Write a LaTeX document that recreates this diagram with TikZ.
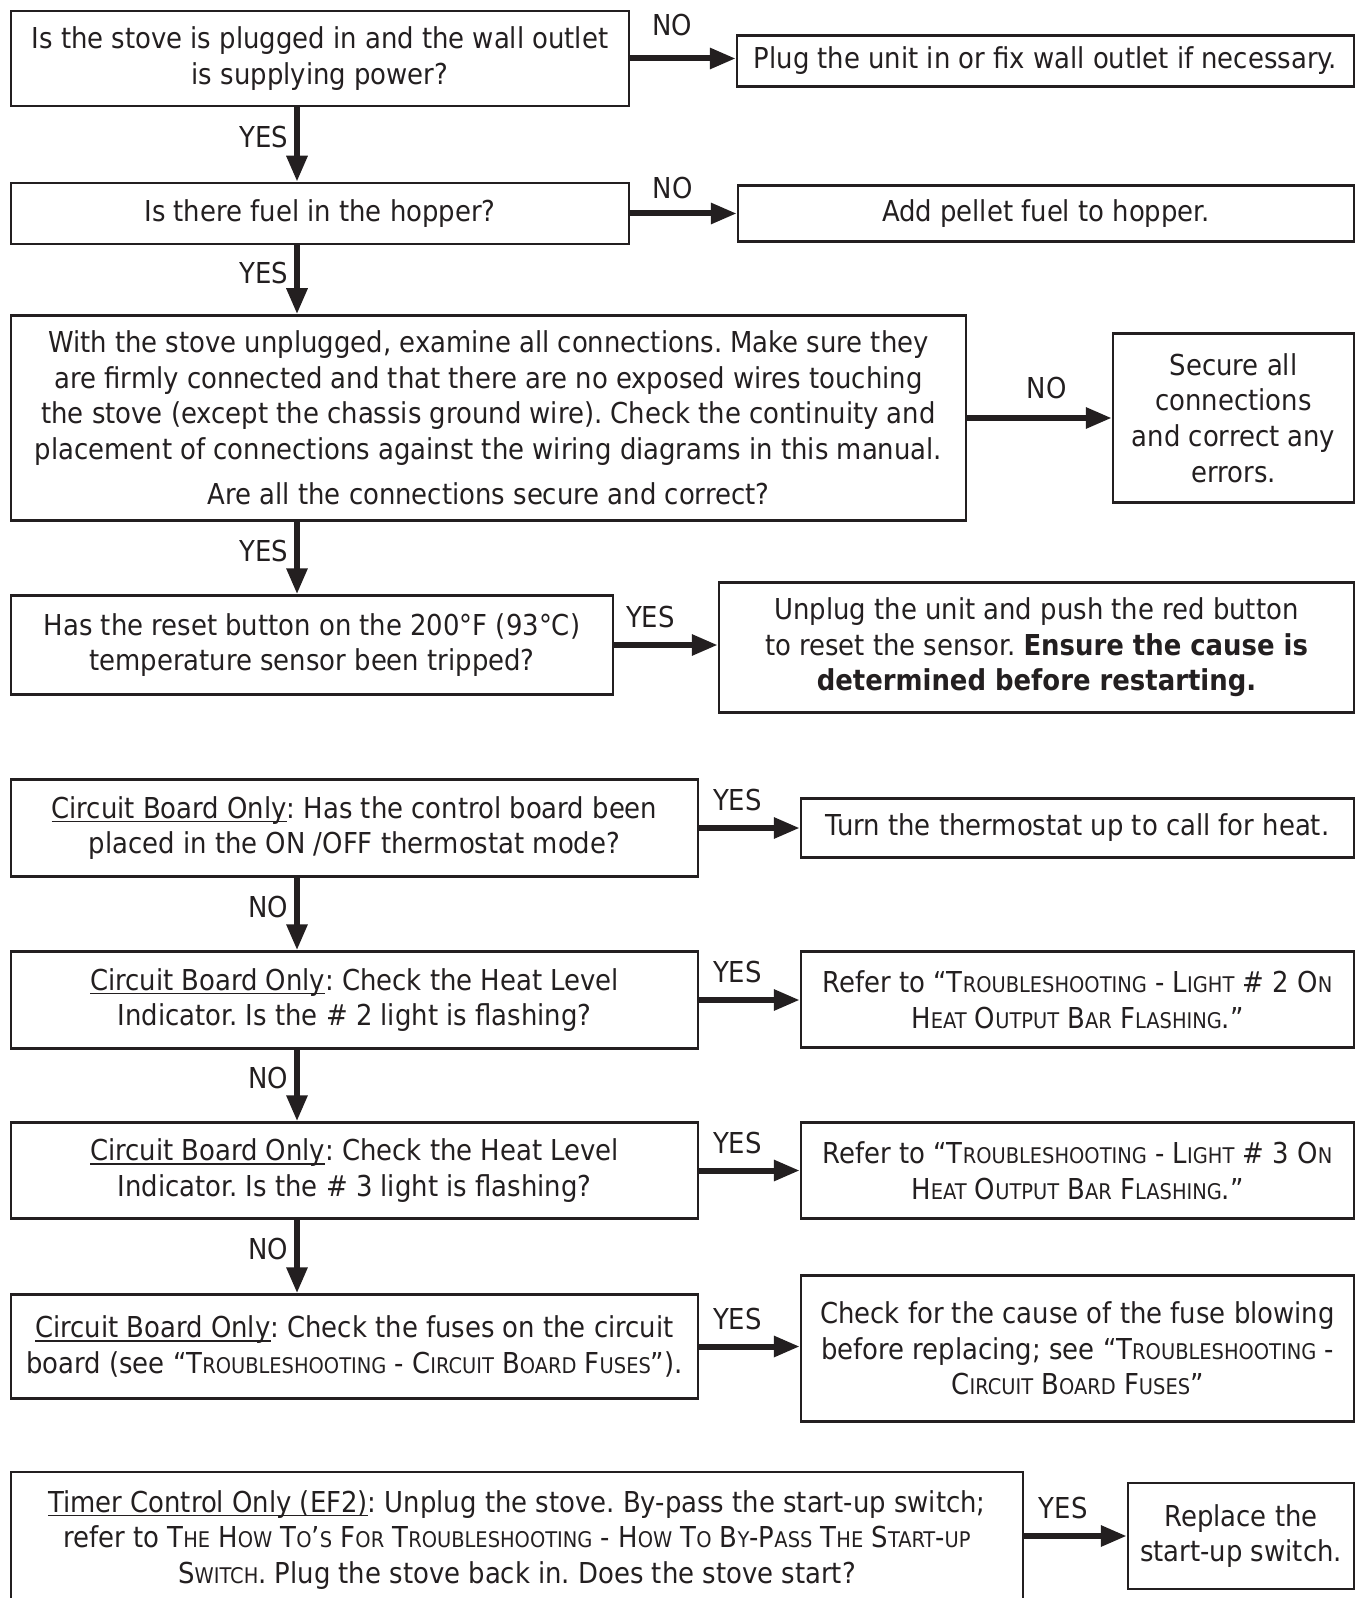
\documentclass[tikz,border=0pt]{standalone}
\usepackage{fontspec}
\setmainfont{DejaVu Sans Condensed}
\usepackage{xcolor}
\usetikzlibrary{arrows.meta,positioning}
\definecolor{ink}{HTML}{231F20}
\frenchspacing
\newcommand{\smcap}[1]{{\fontsize{10.8}{17.8}\selectfont #1}}
\newsavebox{\ulinebox}
\newcommand{\uln}[1]{\sbox{\ulinebox}{#1}\rlap{\rule[-2pt]{\wd\ulinebox}{0.75pt}}\usebox{\ulinebox}}

\begin{document}
\begin{tikzpicture}[
  x=0.5pt, y=-0.5pt,
  box/.style={draw=ink, line width=1.25pt, align=center, inner sep=0pt, text=ink,
    font=\fontsize{14.4}{17.8}\selectfont},
  arrow/.style={-{Triangle[length=13pt,width=10pt]}, line width=3pt, draw=ink},
  lbl/.style={inner sep=0pt, text=ink, font=\fontsize{14.4}{17.8}\selectfont}
]
\useasboundingbox (0,0) rectangle (1360,1598);
\coordinate (spine) at (297,0);

% questions, left column
\node[box, minimum width=309pt, minimum height=47.5pt] (q1) at (320,58.5)
  {Is the stove is plugged in and the wall outlet\\ is supplying power?};
\node[box, minimum width=309pt, minimum height=30.5pt] (q2) at (320,213.5)
  {Is there fuel in the hopper?};
\node[box, minimum width=477.5pt, minimum height=102.5pt] (q3) at (488.5,418)
  {With the stove unplugged, examine all connections. Make sure they\\
   are firmly connected and that there are no exposed wires touching\\
   the stove (except the chassis ground wire). Check the continuity and\\
   placement of connections against the wiring diagrams in this manual.\\[5pt]
   Are all the connections secure and correct?};
\node[box, minimum width=301pt, minimum height=49.5pt] (q4) at (312,645)
  {Has the reset button on the 200°F (93°C)\\ temperature sensor been tripped?};
\node[box, minimum width=343.5pt, minimum height=48.5pt] (q5) at (354.5,828)
  {\uln{Circuit Board Only}: Has the control board been\\ placed in the ON /OFF thermostat mode?};
\node[box, minimum width=343.5pt, minimum height=48.5pt] (q6) at (354.5,1000)
  {\uln{Circuit Board Only}: Check the Heat Level\\ Indicator. Is the \# 2 light is flashing?};
\node[box, minimum width=343.5pt, minimum height=48pt] (q7) at (354.5,1170.5)
  {\uln{Circuit Board Only}: Check the Heat Level\\ Indicator. Is the \# 3 light is flashing?};
\node[box, minimum width=343.5pt, minimum height=52pt] (q8) at (354.5,1346.5)
  {\uln{Circuit Board Only}: Check the fuses on the circuit\\
   board (see “T\smcap{ROUBLESHOOTING} - C\smcap{IRCUIT} B\smcap{OARD} F\smcap{USES}”).};
\node[box, minimum width=506pt, minimum height=68pt] (q9) at (517,1540)
  {\uln{Timer Control Only (EF2)}: Unplug the stove. By-pass the start-up switch;\\
   refer to T\smcap{HE} H\smcap{OW} T\smcap{O}’\smcap{S} F\smcap{OR} T\smcap{ROUBLESHOOTING} - H\smcap{OW} T\smcap{O} B\smcap{Y}-P\smcap{ASS} T\smcap{HE} S\smcap{TART}-\smcap{UP}\\
   S\smcap{WITCH}. Plug the stove back in. Does the stove start?};

% actions, right column
\node[box, minimum width=308.5pt, minimum height=25.5pt] (a1) at (1045.5,61)
  {Plug the unit in or fix wall outlet if necessary.};
\node[box, minimum width=308pt, minimum height=28pt] (a2) at (1046,213.5)
  {Add pellet fuel to hopper.};
\node[box, minimum width=120.5pt, minimum height=84.5pt] (a3) at (1233.5,418)
  {Secure all\\ connections\\ and correct any\\ errors.};
\node[box, minimum width=317.5pt, minimum height=65pt] (a4) at (1036.5,647.5)
  {Unplug the unit and push the red button\\
   to reset the sensor. \textbf{Ensure the cause is}\\ \textbf{determined before restarting.}};
\node[box, minimum width=276.5pt, minimum height=29.5pt] (a5) at (1077.5,828)
  {Turn the thermostat up to call for heat.};
\node[box, minimum width=276.5pt, minimum height=48pt] (a6) at (1077.5,999.5)
  {Refer to “T\smcap{ROUBLESHOOTING} - L\smcap{IGHT} \# 2 O\smcap{N}\\
   H\smcap{EAT} O\smcap{UTPUT} B\smcap{AR} F\smcap{LASHING}.”};
\node[box, minimum width=276.5pt, minimum height=48pt] (a7) at (1077.5,1170.5)
  {Refer to “T\smcap{ROUBLESHOOTING} - L\smcap{IGHT} \# 3 O\smcap{N}\\
   H\smcap{EAT} O\smcap{UTPUT} B\smcap{AR} F\smcap{LASHING}.”};
\node[box, minimum width=276.5pt, minimum height=73pt] (a8) at (1077.5,1348.5)
  {Check for the cause of the fuse blowing\\
   before replacing; see “T\smcap{ROUBLESHOOTING} -\\
   C\smcap{IRCUIT} B\smcap{OARD} F\smcap{USES}”};
\node[box, minimum width=113pt, minimum height=53pt] (a9) at (1241,1536)
  {Replace the\\ start-up switch.};

% down the left column
\draw[arrow] (spine |- q1.south) -- (spine |- q2.north) node[lbl, pos=.4, left=3pt] {YES};
\draw[arrow] (spine |- q2.south) -- (spine |- q3.north) node[lbl, pos=.4, left=3pt] {YES};
\draw[arrow] (spine |- q3.south) -- (spine |- q4.north) node[lbl, pos=.4, left=3pt] {YES};
\draw[arrow] (spine |- q5.south) -- (spine |- q6.north) node[lbl, pos=.4, left=3pt] {NO};
\draw[arrow] (spine |- q6.south) -- (spine |- q7.north) node[lbl, pos=.4, left=3pt] {NO};
\draw[arrow] (spine |- q7.south) -- (spine |- q8.north) node[lbl, pos=.4, left=3pt] {NO};

% across to the actions
\draw[arrow] (q1.east) -- (q1.east -| a1.west) node[lbl, pos=.4, above=10pt] {NO};
\draw[arrow] (q2.east) -- (q2.east -| a2.west) node[lbl, pos=.4, above=6pt] {NO};
\draw[arrow] (q3.east) -- (a3.west) node[lbl, pos=.55, above=8pt] {NO};
\draw[arrow] (q4.east) -- (q4.east -| a4.west) node[lbl, pos=.35, above=7pt] {YES};
\draw[arrow] (q5.east) -- (a5.west) node[lbl, pos=.38, above=7pt] {YES};
\draw[arrow] (q6.east) -- (q6.east -| a6.west) node[lbl, pos=.38, above=7pt] {YES};
\draw[arrow] (q7.east) -- (a7.west) node[lbl, pos=.38, above=7pt] {YES};
\draw[arrow] (q8.east) -- (q8.east -| a8.west) node[lbl, pos=.38, above=7pt] {YES};
\draw[arrow] (q9.east |- a9.west) -- (a9.west) node[lbl, pos=.38, above=7pt] {YES};
\end{tikzpicture}
\end{document}
